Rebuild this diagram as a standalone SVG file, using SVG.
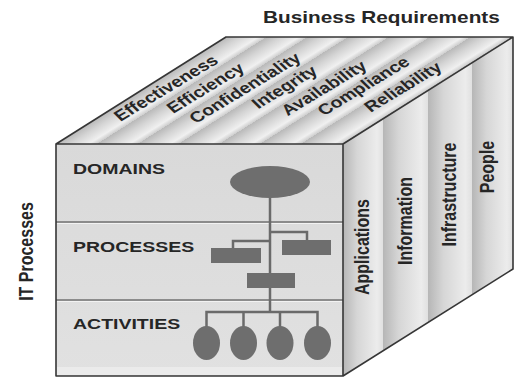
<svg xmlns="http://www.w3.org/2000/svg" width="517" height="380" viewBox="0 0 517 380">
<style>
.lbl{font-family:"Liberation Sans",Arial,sans-serif;font-weight:bold;fill:#262626}
.shape{fill:#6e6e6e}
.conn{stroke:#6a6a6a;stroke-width:2.5;fill:none}
.edge{stroke:#363636;stroke-width:1.6;fill:none;stroke-linejoin:round}
.col{fill:url(#colGrad)}
.div{stroke:#707070;stroke-width:1.5}
.divhi{stroke:#f2f2f2;stroke-width:1}
</style>
<defs>
<linearGradient id="topGrad" gradientUnits="userSpaceOnUse" x1="56" y1="144" x2="67.6" y2="162.4" spreadMethod="repeat">
<stop offset="0" stop-color="#b9b9b9"/>
<stop offset="0.35" stop-color="#d4d4d4"/>
<stop offset="0.8" stop-color="#f0f0f0"/>
<stop offset="1" stop-color="#cdcdcd"/>
</linearGradient>
<linearGradient id="colGrad" x1="0" y1="0" x2="1" y2="0">
<stop offset="0" stop-color="#b6b6b6"/>
<stop offset="0.35" stop-color="#d6d6d6"/>
<stop offset="0.85" stop-color="#ececec"/>
<stop offset="1" stop-color="#e0e0e0"/>
</linearGradient>
<linearGradient id="frontGrad" x1="0" y1="0" x2="0" y2="1">
<stop offset="0" stop-color="#d9d9d9"/>
<stop offset="1" stop-color="#e1e1e1"/>
</linearGradient>
</defs>
<rect width="517" height="380" fill="#ffffff"/>

<g id="cube">
<g id="top-face">
<polygon points="56,144 343,144 513,37 226,37" fill="url(#topGrad)"/>
</g>
<g id="right-face">
<polygon class="col" points="343,144 383,118.8 383,350.8 343,376"/>
<polygon class="col" points="383,118.8 428,90.5 428,322.5 383,350.8"/>
<polygon class="col" points="428,90.5 472,62.8 472,294.8 428,322.5"/>
<polygon class="col" points="472,62.8 513,37 513,269 472,294.8"/>
</g>
<g id="front-face">
<rect x="56" y="144" width="287" height="232" fill="url(#frontGrad)"/>
<rect x="57" y="367" width="285" height="8" fill="#ebebeb"/>
<line class="div" x1="56" y1="222" x2="343" y2="222"/>
<line class="divhi" x1="57" y1="223.5" x2="342" y2="223.5"/>
<line class="div" x1="56" y1="300" x2="343" y2="300"/>
<line class="divhi" x1="57" y1="301.5" x2="342" y2="301.5"/>
</g>
<path class="edge" d="M56,144 L226,37 L513,37 L513,269 L343,376 L56,376 Z M56,144 L343,144 L513,37 M343,144 L343,376"/>
</g>

<g id="title-business-requirements">
<text class="lbl" font-size="16" transform="translate(263,23) scale(1.3,1)">Business Requirements</text>
</g>
<g id="title-it-processes">
<text class="lbl" font-size="16" text-anchor="middle" transform="translate(33,251.5) scale(1.3,1) rotate(-90)">IT Processes</text>
</g>

<g id="business-requirements">
<text class="lbl" font-size="15" text-anchor="middle" transform="translate(170,92) scale(1.3,1) rotate(-38)">Effectiveness</text>
<text class="lbl" font-size="15" text-anchor="middle" transform="translate(209.5,92) scale(1.3,1) rotate(-38)">Efficiency</text>
<text class="lbl" font-size="15" text-anchor="middle" transform="translate(249,92) scale(1.3,1) rotate(-38)">Confidentiality</text>
<text class="lbl" font-size="15" text-anchor="middle" transform="translate(288.5,91) scale(1.3,1) rotate(-38)">Integrity</text>
<text class="lbl" font-size="15" text-anchor="middle" transform="translate(328,92) scale(1.3,1) rotate(-38)">Availability</text>
<text class="lbl" font-size="15" text-anchor="middle" transform="translate(367.5,90) scale(1.3,1) rotate(-38)">Compliance</text>
<text class="lbl" font-size="15" text-anchor="middle" transform="translate(407,91) scale(1.3,1) rotate(-38)">Reliability</text>
</g>

<g id="it-resources">
<text class="lbl" font-size="16" text-anchor="middle" transform="translate(369,247) scale(1.3,1) rotate(-90)">Applications</text>
<text class="lbl" font-size="16" text-anchor="middle" transform="translate(412,221) scale(1.3,1) rotate(-90)">Information</text>
<text class="lbl" font-size="16" text-anchor="middle" transform="translate(456,194.5) scale(1.3,1) rotate(-90)">Infrastructure</text>
<text class="lbl" font-size="16" text-anchor="middle" transform="translate(494,167) scale(1.3,1) rotate(-90)">People</text>
</g>

<g id="level-labels">
<text class="lbl" font-size="15" transform="translate(73,174) scale(1.3,1)">DOMAINS</text>
<text class="lbl" font-size="15" transform="translate(73,252) scale(1.3,1)">PROCESSES</text>
<text class="lbl" font-size="15" transform="translate(73,329) scale(1.3,1)">ACTIVITIES</text>
</g>

<g id="connectors">
<line class="conn" x1="270" y1="196" x2="270" y2="312"/>
<path class="conn" d="M270,241 H233 V249"/>
<path class="conn" d="M270,232 H307 V241"/>
<path class="conn" d="M206.5,327 V312 H317.5 V327"/>
<line class="conn" x1="243.5" y1="312" x2="243.5" y2="327"/>
<line class="conn" x1="280" y1="312" x2="280" y2="327"/>
</g>

<g id="domain">
<ellipse class="shape" cx="270" cy="182" rx="40" ry="16"/>
</g>
<g id="process-left">
<rect class="shape" x="211" y="248" width="50" height="15"/>
</g>
<g id="process-right">
<rect class="shape" x="282" y="240" width="49" height="15"/>
</g>
<g id="process-middle">
<rect class="shape" x="247" y="273" width="48" height="15"/>
</g>
<g id="activity-1"><ellipse class="shape" cx="206.5" cy="343" rx="13.5" ry="17"/></g>
<g id="activity-2"><ellipse class="shape" cx="243.5" cy="343" rx="13.5" ry="17"/></g>
<g id="activity-3"><ellipse class="shape" cx="280" cy="343" rx="13.5" ry="17"/></g>
<g id="activity-4"><ellipse class="shape" cx="317.5" cy="343" rx="13.5" ry="17"/></g>
</svg>
